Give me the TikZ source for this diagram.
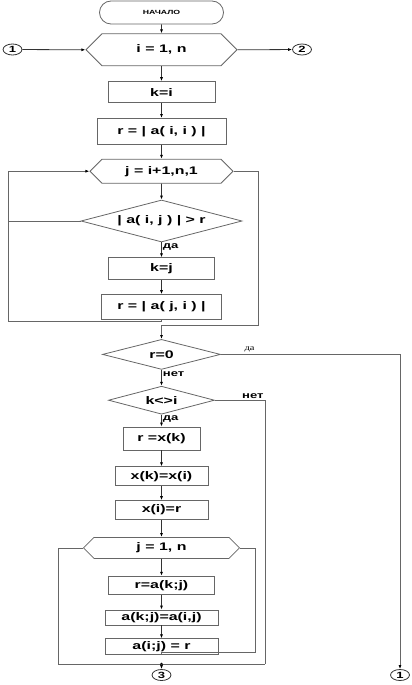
\documentclass[tikz,border=0pt]{standalone}
\usepackage{fontspec}
\setmainfont{Liberation Sans}[FakeStretch=1.45]
\newfontfamily\lblserif{Liberation Serif}[FakeStretch=1.3]
\usetikzlibrary{positioning, shapes.geometric, shapes.misc, shapes.symbols, arrows.meta}

\begin{document}
\begin{tikzpicture}[
            x=1pt, y=-1pt,
            line width=0.8pt,
            font=\bfseries\fontsize{11}{12}\selectfont,
            block/.style={draw=black!60, rectangle, inner sep=0pt, align=center},
            loophex/.style={draw=black!60, signal, signal to=west and east, inner sep=0pt},
            cond/.style={draw=black!60, diamond, inner sep=0pt},
            term/.style={draw=black!60, rounded rectangle, inner sep=0pt},
            link/.style={draw=black!80, ellipse, minimum width=19pt, minimum height=11pt, inner sep=0pt, font=\bfseries\fontsize{9}{9}\selectfont},
            arrow/.style={draw=black!80, -{Latex[length=4pt,width=3pt,black]}},
            back/.style={draw=black!60},
            lbl/.style={font=\bfseries\fontsize{9}{9}\selectfont, inner sep=1pt}
        ]
        \useasboundingbox (0,0) rectangle (412,685);

        % Outer loop over i
        \node[term, minimum width=124pt, minimum height=23pt, font=\bfseries\fontsize{6}{7}\selectfont] (start) at (161.5,12.5) {НАЧАЛО};
        \node[loophex, minimum width=151pt, minimum height=32pt, below=9pt of start] (cyci) {i = 1, n};
        \node[block, minimum width=107pt, minimum height=21pt, below=15pt of cyci] (ki) {k=i};
        \node[block, minimum width=129pt, minimum height=26pt, below=15pt of ki] (rii) {r = | a( i, i ) |};

        % Search for the largest element
        \node[loophex, minimum width=143pt, minimum height=24pt, below=14pt of rii] (cycj) {j = i+1,n,1};
        \node[cond, shape aspect=3.83, minimum width=161pt, minimum height=42pt, below=16pt of cycj] (cmpa) {| a( i, j ) | > r};
        \node[block, minimum width=106pt, minimum height=22pt, below=15pt of cmpa] (kj) {k=j};
        \node[block, minimum width=120pt, minimum height=25pt, below=14pt of kj] (rji) {r = | a( j, i ) |};

        % Checks
        \node[cond, shape aspect=3.93, minimum width=118pt, minimum height=30pt, below=19pt of rji] (rzero) {r=0};
        \node[cond, shape aspect=3.79, minimum width=106pt, minimum height=28pt, below=16pt of rzero] (kneq) {k<>i};

        % Swap
        \node[block, minimum width=77pt, minimum height=23pt, below=12pt of kneq] (rxk) {r =x(k)};
        \node[block, minimum width=93pt, minimum height=19pt, below=16pt of rxk] (xkxi) {x(k)=x(i)};
        \node[block, minimum width=93pt, minimum height=19pt, below=14pt of xkxi] (xir) {x(i)=r};
        \node[loophex, minimum width=156pt, minimum height=21pt, below=17pt of xir] (cycj1) {j = 1, n};
        \node[block, minimum width=106pt, minimum height=18pt, below=17pt of cycj1] (rakj) {r=a(k;j)};
        \node[block, minimum width=113pt, minimum height=15pt, below=15pt of rakj] (akjaij) {a(k;j)=a(i,j)};
        \node[block, minimum width=113pt, minimum height=16pt, below=13pt of akjaij] (aijr) {a(i;j) = r};

        % Connectors
        \node[link] (inone) at (12.5,49.5) {1};
        \node[link] (outtwo) at (302,49.5) {2};
        \node[link] (three) at (161.5,675) {3};
        \node[link] (outone) at (400,675) {1};

        % Corner points
        \coordinate (jback) at (8,321);
        \coordinate (jexit) at (258,325);
        \coordinate (kout) at (265,664);
        \coordinate (innerc) at (255,652);
        \coordinate (outerc) at (58,664);

        % Main flow
        \draw[arrow] (start) -- (cyci);
        \draw[arrow] (inone) -- (cyci.west);
        \draw[arrow] (cyci.east) -- (outtwo);
        \draw[arrow] (cyci) -- (ki);
        \draw[arrow] (ki) -- (rii);
        \draw[arrow] (rii) -- (cycj);
        \draw[arrow] (cycj) -- (cmpa);
        \draw[arrow] (cmpa) -- node[lbl, at start, anchor=north west] {да} (kj);
        \draw[arrow] (kj) -- (rji);
        \draw[arrow, draw=black!60] (rji.south) |- (jback) |- (cycj.west);
        \draw[back] (cmpa.west) -- (cmpa.west -| jback);
        \draw[arrow, draw=black!60] (cycj.east) -| (jexit) -| (rzero.north);

        \draw[arrow, draw=black!60] (rzero.east) -| node[pos=0.08, above, inner sep=2pt, font=\lblserif\fontsize{8}{8}\selectfont] {да} (outone);
        \draw[arrow] (rzero) -- node[lbl, at start, anchor=north west] {нет} (kneq);
        \draw[back] (kneq.east) -| node[lbl, pos=0.5, above left] {нет} (kout);
        \draw[arrow] (kneq) -- node[lbl, at start, anchor=north west] {да} (rxk);
        \draw[arrow] (rxk) -- (xkxi);
        \draw[arrow] (xkxi) -- (xir);
        \draw[arrow] (xir) -- (cycj1);
        \draw[arrow] (cycj1) -- (rakj);
        \draw[arrow] (rakj) -- (akjaij);
        \draw[arrow] (akjaij) -- (aijr);

        % Loop closing lines
        \draw[back] (aijr.south) |- (innerc) |- (cycj1.east);
        \draw[back] (cycj1.west) -| (outerc) -- (kout);
        \fill (three |- outerc) circle (1.5pt);
        \draw[arrow] (three |- outerc) -- (three);
        \end{tikzpicture}
\end{document}
